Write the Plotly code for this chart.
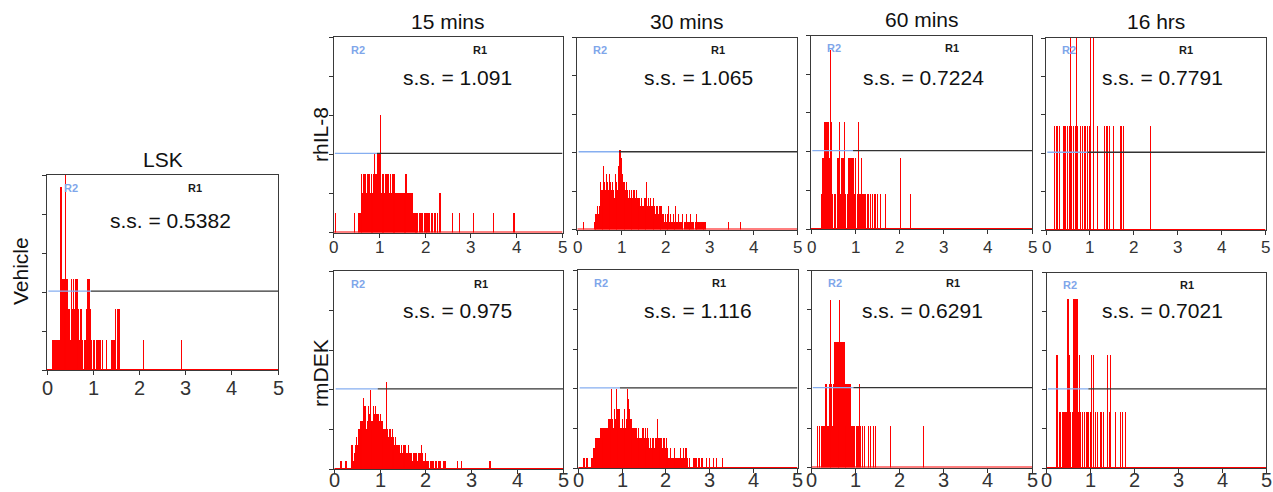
import plotly.graph_objects as go

W, H = 1273, 492
BIN = 0.02          # channel width on the 0-5 fluorescence scale
FONT = "Arial, 'Liberation Sans', sans-serif"

# ---------------- histogram data (events per channel) ----------------
# each sample: first channel of the dense block, counts from there on,
# plus isolated events further out (channel, count)

lsk_first = 6
lsk_counts = [1, 1, 1, 1, 1, 1, 1, 1, 6, 6, 3, 3, 3, 3, 7, 3, 3, 2, 2,
              1, 3, 2, 3, 2, 3, 3, 2, 3, 2, 1, 2, 2, 1, 0, 1, 1, 2, 3, 3,
              3, 2, 2, 1, 0, 1, 1, 0, 1, 1, 1, 1, 1, 0, 0, 1, 0, 0, 0, 1,
              0, 0, 0, 0, 1, 1, 0, 1, 1, 2, 0, 2, 2, 2]
lsk_tail_ch = [104, 145]
lsk_tail_n = [1, 1]

il8_15_first = 22
il8_15_counts = [1, 0, 0, 0, 1, 1, 1, 3, 3, 2, 3, 3, 3, 2, 3, 3, 3, 2, 3,
                 2, 2, 3, 4, 3, 3, 4, 4, 4, 6, 2, 2, 3, 2, 2, 3, 3, 3, 3,
                 2, 3, 2, 3, 3, 3, 2, 2, 2, 2, 2, 2, 2, 2, 2, 2, 2, 2, 3,
                 3, 2, 2, 2, 2, 2, 2, 1, 1, 1, 1, 1, 1, 0, 1, 1, 1, 1, 0,
                 1, 1, 1, 1, 0, 1, 1, 0, 1, 1, 0, 1, 1, 0, 1, 1, 0, 2, 2]
il8_15_tail_ch = [1, 129, 137, 152, 174, 196]
il8_15_tail_n = [1, 1, 1, 1, 1, 1]

il8_30_first = 19
il8_30_counts = [1, 1, 2, 2, 3, 2, 3, 6, 5, 5, 4, 8, 6, 5, 7, 6, 5, 7, 7,
                 6, 5, 6, 5, 4, 7, 6, 6, 5, 8, 10, 10, 9, 7, 6, 6, 5, 5,
                 6, 5, 4, 5, 4, 5, 5, 4, 5, 5, 4, 5, 4, 4, 3, 4, 3, 4, 3,
                 3, 4, 3, 4, 6, 3, 4, 3, 4, 3, 3, 4, 3, 3, 2, 3, 3, 2, 3,
                 3, 2, 3, 2, 2, 1, 2, 1, 1, 2, 3, 1, 2, 1, 1, 2, 1, 1, 3,
                 1, 1, 2, 1, 1, 1, 2, 1, 0, 1, 1, 2, 1, 1, 1, 1, 2, 1, 1,
                 1, 0, 1, 1, 2, 1, 1, 1, 1, 1, 1, 1, 1, 1, 1]
il8_30_tail_ch = [7, 172, 185]
il8_30_tail_n = [1, 1, 1]

il8_60_first = 11
il8_60_counts = [1, 1, 2, 2, 3, 3, 3, 3, 3, 2, 5, 3, 3, 1, 0, 1, 1, 0, 2,
                 2, 2, 3, 1, 2, 2, 2, 3, 1, 1, 0, 1, 2, 2, 2, 2, 2, 2, 1,
                 1, 2, 0, 1, 3, 1, 1, 0, 2, 1, 1, 1, 1, 0, 1, 0, 1, 0, 1,
                 0, 1, 0, 1, 0, 1, 0, 1, 0, 0, 1]
il8_60_tail_ch = [84, 101, 112]
il8_60_tail_n = [1, 2, 1]

il8_16_first = 9
il8_16_counts = [1, 0, 1, 0, 1, 0, 1, 0, 0, 0, 0, 1, 0, 1, 0, 1, 0, 1, 3,
                 0, 1, 0, 1, 0, 1, 3, 1, 0, 0, 0, 1, 0, 1, 0, 1, 0, 1, 0,
                 1, 0, 1, 3, 0, 0, 0, 3, 0, 0, 0, 1, 0, 0, 0, 0, 0, 0, 0,
                 1, 0, 1, 0, 1, 0, 1, 0, 0, 0, 1, 0, 0, 0, 0, 0, 0, 0, 1,
                 0, 1, 0, 1]
il8_16_tail_ch = [119]
il8_16_tail_n = [1]

dek_15_first = 7
dek_15_counts = [1, 1, 0, 0, 0, 1, 1, 0, 0, 0, 0, 0, 3, 3, 1, 2, 3, 4, 3,
                 5, 5, 6, 5, 6, 6, 9, 8, 8, 5, 6, 8, 7, 10, 6, 5, 6, 8, 7,
                 8, 7, 7, 7, 6, 7, 6, 5, 6, 5, 5, 5, 11, 5, 4, 5, 5, 4, 5,
                 3, 4, 3, 4, 3, 3, 3, 3, 2, 3, 2, 2, 3, 2, 3, 2, 2, 3, 2,
                 2, 2, 1, 2, 2, 1, 2, 2, 1, 2, 2, 2, 3, 2, 1, 1, 2, 1, 1,
                 1, 1, 0, 1, 1, 1, 1, 0, 1, 1, 1, 0, 1, 1, 1, 0, 0, 1, 1,
                 1]
dek_15_tail_ch = [134, 139, 170]
dek_15_tail_n = [1, 1, 1]

dek_30_first = 6
dek_30_counts = [1, 1, 0, 1, 1, 0, 0, 0, 0, 1, 1, 2, 2, 2, 3, 3, 3, 3, 3,
                 4, 4, 3, 4, 4, 4, 4, 4, 4, 5, 5, 5, 5, 8, 5, 4, 6, 5, 8,
                 6, 5, 6, 6, 4, 4, 5, 4, 4, 6, 4, 5, 8, 7, 6, 5, 5, 4, 4,
                 4, 4, 4, 4, 3, 4, 3, 3, 3, 3, 4, 4, 3, 4, 4, 3, 4, 3, 2,
                 3, 2, 3, 2, 3, 2, 3, 3, 5, 3, 3, 2, 3, 3, 2, 3, 3, 2, 3,
                 2, 2, 1, 1, 2, 1, 1, 1, 1, 2, 1, 1, 1, 1, 1, 2, 1, 1, 1,
                 2, 1, 2, 2, 1, 0, 0, 1, 0, 0, 0, 1, 1, 0, 1, 1, 0, 1, 1,
                 0, 1, 1, 1, 0]
dek_30_tail_ch = [146, 150, 154, 157, 164]
dek_30_tail_n = [1, 1, 1, 1, 1]

dek_60_first = 6
dek_60_counts = [1, 0, 1, 0, 1, 1, 0, 1, 1, 2, 2, 1, 1, 2, 1, 4, 2, 1, 2,
                 3, 3, 3, 3, 2, 3, 4, 3, 3, 3, 3, 3, 2, 1, 2, 2, 2, 2, 2,
                 1, 1, 0, 1, 1, 0, 1, 1, 1, 2, 1, 0, 0, 1, 0, 1, 0, 0, 0,
                 1, 0, 0, 1, 0, 0, 1, 0, 0, 1]
dek_60_tail_ch = [88, 126]
dek_60_tail_n = [1, 1]

dek_16_first = 10
dek_16_counts = [2, 2, 0, 0, 1, 1, 0, 1, 1, 1, 0, 1, 1, 3, 3, 2, 1, 0, 1,
                 1, 3, 3, 3, 3, 3, 1, 2, 2, 1, 0, 1, 0, 1, 0, 1, 0, 1, 1,
                 0, 1, 2, 0, 1, 2, 0, 1, 0, 1, 0, 0, 1, 0, 1, 0, 1, 0, 0,
                 0, 2, 0, 0, 1, 2, 0, 0, 0, 0, 0, 1, 0, 0, 0, 0, 1, 0, 1,
                 0, 0, 0, 1]
dek_16_tail_ch = []
dek_16_tail_n = []

# full-scale count of each histogram's y axis
y_max = [6.4, 10, 24, 5.4, 1.85, 25, 20, 4.7, 3.45]
# reported s.s. value of each sample
ss_values = ["0.5382", "1.091", "1.065", "0.7224", "0.7791",
             "0.975", "1.116", "0.6291", "0.7021"]

col_titles = ["LSK", "15 mins", "30 mins", "60 mins", "16 hrs"]
row_titles = ["Vehicle", "rhIL-8", "rmDEK"]
x_ticks = [0, 1, 2, 3, 4, 5]

samples = [
    (lsk_first, lsk_counts, lsk_tail_ch, lsk_tail_n),
    (il8_15_first, il8_15_counts, il8_15_tail_ch, il8_15_tail_n),
    (il8_30_first, il8_30_counts, il8_30_tail_ch, il8_30_tail_n),
    (il8_60_first, il8_60_counts, il8_60_tail_ch, il8_60_tail_n),
    (il8_16_first, il8_16_counts, il8_16_tail_ch, il8_16_tail_n),
    (dek_15_first, dek_15_counts, dek_15_tail_ch, dek_15_tail_n),
    (dek_30_first, dek_30_counts, dek_30_tail_ch, dek_30_tail_n),
    (dek_60_first, dek_60_counts, dek_60_tail_ch, dek_60_tail_n),
    (dek_16_first, dek_16_counts, dek_16_tail_ch, dek_16_tail_n),
]

# ---------------- layout geometry (pixels) ----------------
# panel boxes: left, right, top, bottom
boxes = [
    (47, 278, 175, 370),
    (333.5, 562.5, 37, 232.5),
    (577.3, 797, 37.5, 229.5),
    (811, 1032, 35.5, 229),
    (1046, 1265.5, 38, 230),
    (334.3, 563, 271, 469),
    (578.3, 797.5, 270, 468),
    (811.5, 1032, 270.5, 467.5),
    (1046.7, 1266, 272.5, 468),
]
ss_pos = [(170, 220), (458, 77), (698, 77), (923, 77), (1162, 77),
          (458, 310), (698, 310), (922, 310), (1162, 310)]
# vertical centre and size of the x tick numbers of each panel
tick_label_y = [388, 247, 247, 247, 247, 480, 480, 480, 480]
tick_font = [20, 17, 17, 17, 17, 20, 20, 20, 20]


def fx(p):
    return p / W


def fy(p):
    return 1 - p / H


fig = go.Figure()
shapes = []
annotations = []

for i, (first, counts, tail_ch, tail_n) in enumerate(samples):
    n = i + 1
    sfx = "" if n == 1 else str(n)
    chans = list(range(first, first + len(counts))) + list(tail_ch)
    vals = list(counts) + list(tail_n)
    xs = [(c + 0.5) * BIN for c in chans]
    # a hair below full opacity makes plotly snap bar edges to whole pixels;
    # bars slightly wider than a channel keep every channel at least 1px wide
    fig.add_trace(go.Bar(
        x=xs, y=vals, width=BIN * 1.15, xaxis="x" + sfx, yaxis="y" + sfx,
        marker=dict(color="rgba(255,0,0,0.995)", line=dict(width=0)),
        showlegend=False, hoverinfo="skip",
    ))

    l, r, t, b = boxes[i]
    ym = y_max[i]
    fig.layout["xaxis" + sfx] = dict(
        domain=[fx(l), fx(r)], anchor="y" + sfx, range=[0, 5],
        tickvals=x_ticks, showticklabels=False, automargin=False,
        ticks="outside", ticklen=4, tickwidth=1, tickcolor="#333",
        showline=True, linecolor="#3a3a3a", linewidth=1, mirror=True,
        showgrid=False, zeroline=False, fixedrange=True,
    )
    fig.layout["yaxis" + sfx] = dict(
        domain=[fy(b), fy(t)], anchor="x" + sfx, range=[0, ym],
        tickvals=[ym * k / 5 for k in range(6)], showticklabels=False,
        automargin=False,
        ticks="outside", ticklen=4, tickwidth=1, tickcolor="#333",
        showline=True, linecolor="#3a3a3a", linewidth=1, mirror=True,
        showgrid=False, zeroline=False, fixedrange=True,
    )

    # x tick numbers
    for v in x_ticks:
        annotations.append(dict(text=str(v), xref="x" + sfx, yref="paper",
                                x=v, y=fy(tick_label_y[i]), showarrow=False,
                                xanchor="center", yanchor="middle",
                                font=dict(family=FONT, size=tick_font[i], color="#333")))

    # zero-count baseline of the histogram
    shapes.append(dict(type="line", xref="x" + sfx, yref="y" + sfx,
                       x0=0, x1=5, y0=0, y1=0, layer="above",
                       line=dict(color="#ff0000", width=2)))
    # R2 / R1 marker gates
    yd = "y" + sfx + " domain"
    shapes.append(dict(type="line", xref="x" + sfx, yref=yd,
                       x0=0.03, x1=0.95, y0=0.405, y1=0.405, layer="above",
                       line=dict(color="#86aef0", width=1.3)))
    shapes.append(dict(type="line", xref="x" + sfx, yref=yd,
                       x0=0.95, x1=5, y0=0.405, y1=0.405, layer="above",
                       line=dict(color="#333333", width=1.3)))

    xd = "x" + sfx + " domain"
    annotations.append(dict(text="<b>R2</b>", xref=xd, yref=yd, x=0.105, y=0.935,
                            showarrow=False, xanchor="center", yanchor="middle",
                            font=dict(family=FONT, size=11, color="#7fa6ea")))
    annotations.append(dict(text="<b>R1</b>", xref=xd, yref=yd, x=0.64, y=0.935,
                            showarrow=False, xanchor="center", yanchor="middle",
                            font=dict(family=FONT, size=11, color="#1a1a1a")))
    sx, sy = ss_pos[i]
    annotations.append(dict(text="s.s. = " + ss_values[i], xref="paper", yref="paper",
                            x=fx(sx), y=fy(sy), showarrow=False,
                            xanchor="center", yanchor="middle",
                            font=dict(family=FONT, size=21, color="#111")))

# column titles
title_panels = [0, 1, 2, 3, 4]
for title, pi in zip(col_titles, title_panels):
    l, r, t, b = boxes[pi]
    annotations.append(dict(text=title, xref="paper", yref="paper",
                            x=fx((l + r) / 2), y=fy(t - 16),
                            showarrow=False, xanchor="center", yanchor="middle",
                            font=dict(family=FONT, size=21, color="#111")))

# row titles (rotated)
row_pos = [(20, 271), (320, 135), (320, 373)]
for title, (px, py) in zip(row_titles, row_pos):
    annotations.append(dict(text=title, xref="paper", yref="paper",
                            x=fx(px), y=fy(py), textangle=-90,
                            showarrow=False, xanchor="center", yanchor="middle",
                            font=dict(family=FONT, size=21, color="#111")))

fig.update_layout(
    width=W, height=H, margin=dict(l=0, r=0, t=0, b=0, autoexpand=False),
    paper_bgcolor="white", plot_bgcolor="white",
    bargap=0, barmode="overlay",
    shapes=shapes, annotations=annotations,
    showlegend=False,
)

fig.write_html("out.html")
